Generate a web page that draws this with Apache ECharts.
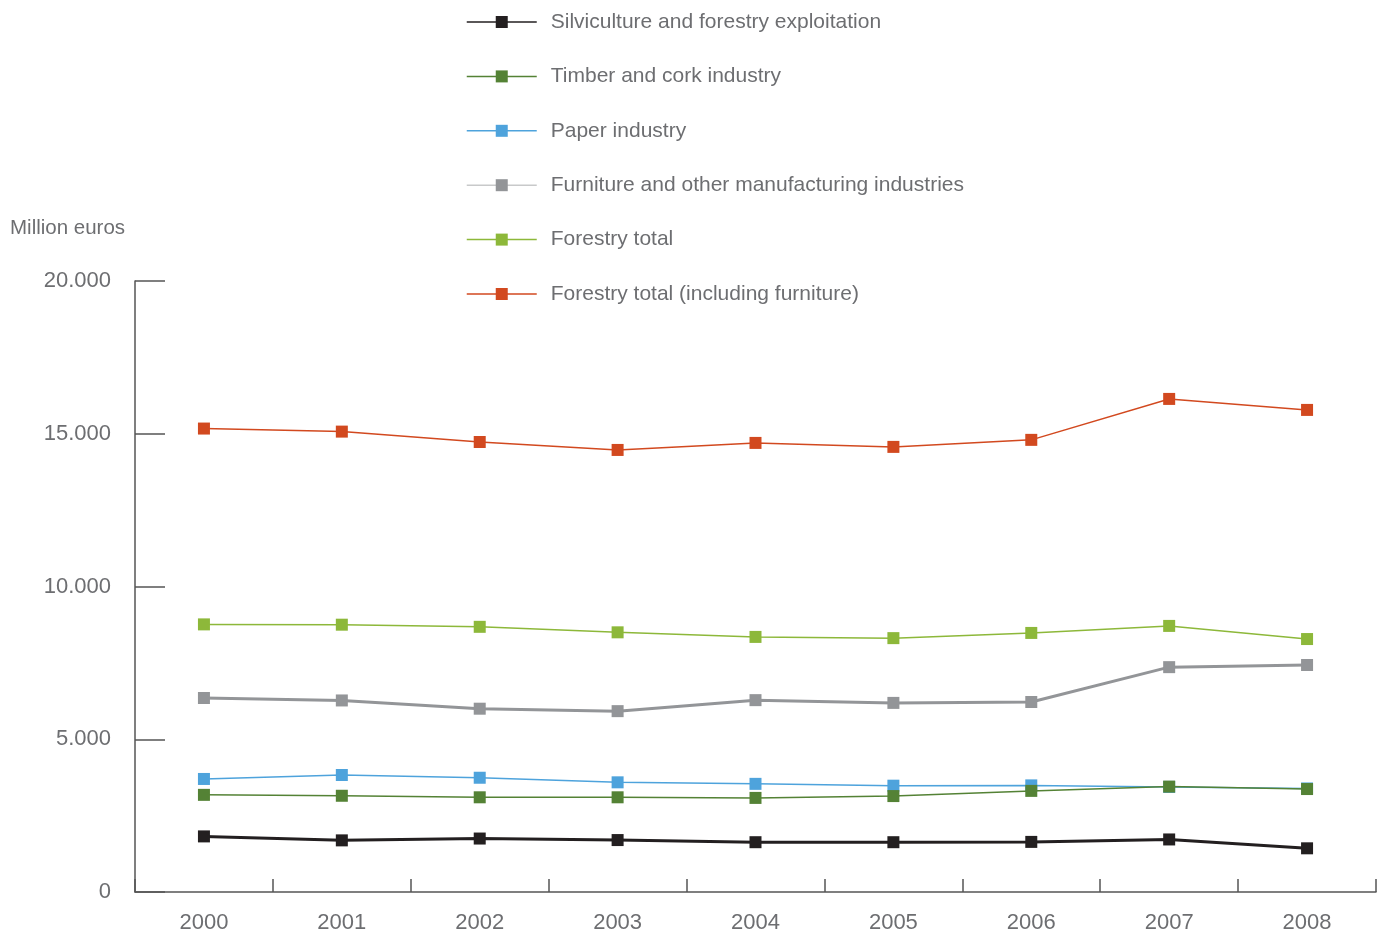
<!DOCTYPE html>
<html>
<head>
<meta charset="utf-8">
<script src="https://cdn.jsdelivr.net/npm/echarts@6/dist/echarts.min.js"></script>
<style>
  html, body { margin: 0; padding: 0; background: #fff; }
  #chart { width: 1384px; height: 931px; }
</style>
</head>
<body>
<div id="chart"></div>
<script>
const years = ['2000', '2001', '2002', '2003', '2004', '2005', '2006', '2007', '2008'];
const yTicks = [0, 5000, 10000, 15000, 20000];

const silviculture = [1820, 1690, 1750, 1700, 1630, 1630, 1640, 1720, 1430];
const timberCork   = [3180, 3150, 3100, 3100, 3080, 3140, 3310, 3450, 3370];
const paper        = [3700, 3830, 3740, 3590, 3540, 3480, 3490, 3440, 3390];
const furniture    = [6350, 6270, 6000, 5920, 6280, 6190, 6220, 7360, 7430];
const forestryTotal = [8760, 8750, 8680, 8500, 8350, 8310, 8480, 8710, 8280];
const forestryTotalFurniture = [15170, 15070, 14730, 14470, 14700, 14570, 14800, 16140, 15780];

const names = [
  'Silviculture and forestry exploitation',
  'Timber and cork industry',
  'Paper industry',
  'Furniture and other manufacturing industries',
  'Forestry total',
  'Forestry total (including furniture)'
];
const colors = ['#231f20', '#548235', '#4ea3dc', '#939598', '#8db83a', '#d2491f'];
const widths = [3, 1.5, 1.5, 3, 1.5, 1.5];
const values = [silviculture, timberCork, paper, furniture, forestryTotal, forestryTotalFurniture];

const font = 'Liberation Sans, Arial, sans-serif';
const textColor = '#6d6e71';
const axisColor = '#555555';

const chart = echarts.init(document.getElementById('chart'));

const zOrder = [6, 5, 4, 3, 2, 1];

chart.setOption({
  animation: false,
  backgroundColor: '#ffffff',
  title: {
    text: 'Million euros',
    left: 5,
    top: 213,
    textStyle: { fontFamily: font, fontSize: 20.5, fontWeight: 'normal', color: textColor }
  },
  legend: {
    orient: 'vertical',
    left: 461,
    top: 6,
    itemWidth: 70,
    itemHeight: 15,
    itemGap: 32.4,
    lineStyle: { width: 1.5 },
    textStyle: { fontFamily: font, fontSize: 21, color: textColor, lineHeight: 22, padding: [0, 0, 0, 9] },
    data: names.map((n, i) => i === 3 ? { name: n, lineStyle: { color: '#c8c9ca', width: 1.5 } } : { name: n })
  },
  grid: { left: 135, right: 8, top: 281, bottom: 39, containLabel: false, outerBoundsMode: 'none' },
  xAxis: {
    type: 'category',
    data: years,
    boundaryGap: true,
    axisLine: { lineStyle: { color: axisColor, width: 1.5 } },
    axisTick: { show: true, inside: true, length: 13, alignWithLabel: false, lineStyle: { color: axisColor, width: 1.5 } },
    axisLabel: { fontFamily: font, fontSize: 22, color: textColor, margin: 20 },
    splitLine: { show: false }
  },
  yAxis: {
    type: 'value',
    min: yTicks[0],
    max: yTicks[yTicks.length - 1],
    interval: yTicks[1] - yTicks[0],
    axisLine: { show: true, lineStyle: { color: axisColor, width: 1.5 } },
    axisTick: { show: true, inside: true, length: 30, lineStyle: { color: axisColor, width: 1.5 } },
    axisLabel: {
      fontFamily: font, fontSize: 22, color: textColor, margin: 24,
      formatter: v => v === 0 ? '0' : (v / 1000).toFixed(3)
    },
    splitLine: { show: false }
  },
  series: names.map((n, i) => ({
    name: n,
    type: 'line',
    data: values[i],
    z: zOrder[i],
    symbol: 'rect',
    symbolSize: 12,
    showSymbol: true,
    color: colors[i],
    lineStyle: { color: colors[i], width: widths[i] },
    itemStyle: { color: colors[i] }
  }))
});
</script>
</body>
</html>
